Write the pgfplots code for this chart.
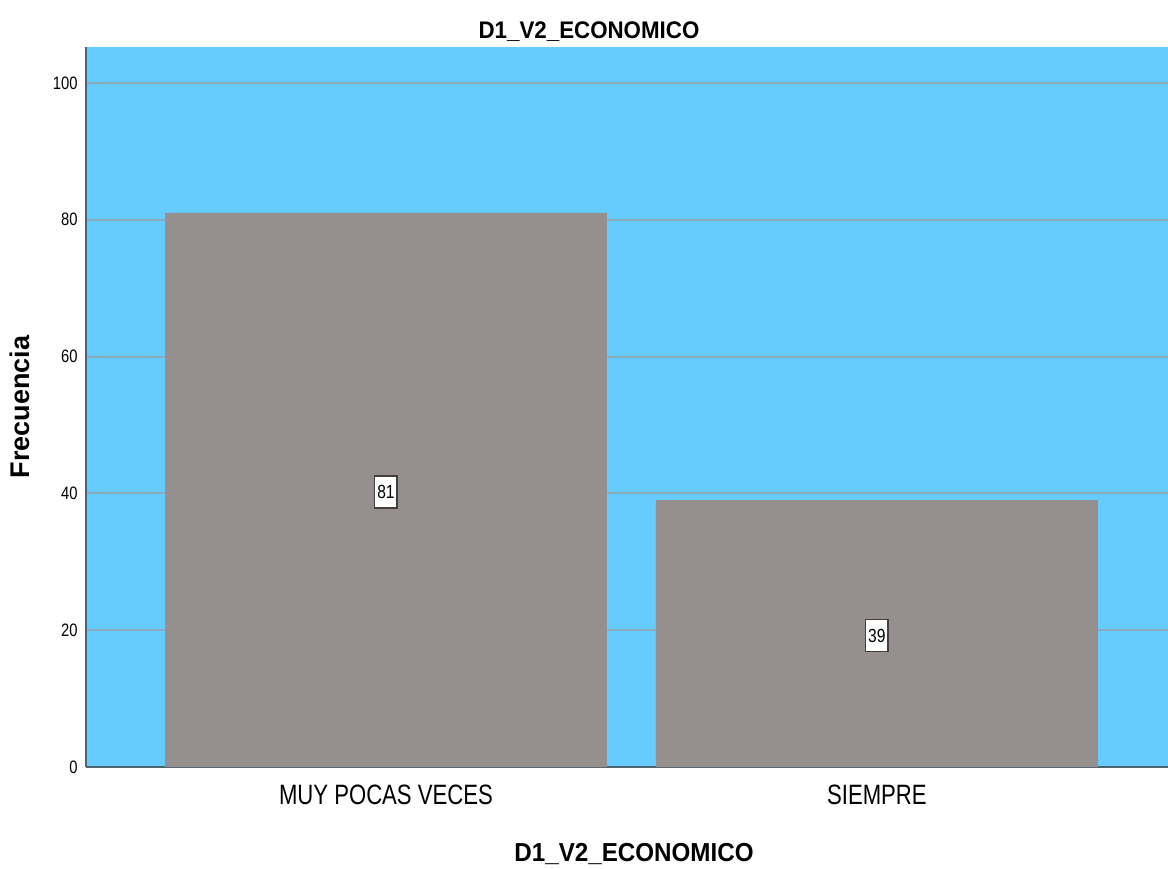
\documentclass[border=0pt]{standalone}
\usepackage{fontspec}
\setmainfont{Liberation Sans}
\newfontfamily\narrowfont{Liberation Sans}[FakeStretch=0.82]
\newfontfamily\catfont{Liberation Sans}[FakeStretch=0.79]
\newfontfamily\boldfont{Liberation Sans}[FakeStretch=0.93]
\usepackage{pgfplots}
\usepackage{pgfplotstable}
\pgfplotsset{compat=1.18}
\definecolor{bgblue}{RGB}{102,204,255}
\definecolor{bargray}{RGB}{149,144,142}
\definecolor{gridc}{RGB}{138,170,190}
\definecolor{axc}{RGB}{80,100,110}
\pgfplotstableread{
x v
0 81
1 39
}\datatab
\begin{document}
\begin{tikzpicture}
\begin{axis}[
  name=ax,
  at={(0,0)}, anchor=south west,
  scale only axis,
  width=541pt, height=360pt,
  xmin=-0.611, xmax=1.593,
  ymin=0, ymax=105.26,
  axis background/.style={fill=bgblue},
  axis x line=bottom, axis y line=left,
  axis line style={-, draw=axc, line width=1pt},
  xtick={0,1},
  xticklabels={MUY POCAS VECES,SIEMPRE},
  ytick={0,20,40,60,80,100},
  yticklabels={0,20,40,60,80,100},
  major tick length=0pt,
  xticklabel style={font=\catfont\fontsize{14}{16}\selectfont, inner sep=0pt, anchor=north, yshift=-9pt},
  yticklabel style={font=\narrowfont\fontsize{9}{10}\selectfont, inner sep=0pt, anchor=east, xshift=-4pt},
  ymajorgrids,
  grid style={draw=gridc, line width=1pt},
  clip=false,
]
\addplot[ybar, bar width=0.9, fill=bargray, draw=none] table[x=x, y=v] {\datatab};
\addplot[only marks, mark=none,
  nodes near coords,
  point meta=explicit,
  nodes near coords style={font=\narrowfont\fontsize{9.5}{10}\selectfont, anchor=center, fill=white, draw=black!75, line width=0.8pt, inner xsep=1.3pt, inner ysep=0pt, minimum height=16pt, yshift=-1pt, /pgf/number format/assume math mode=true},
] table[x=x, y expr=\thisrow{v}/2, meta=v] {\datatab};
\end{axis}
\node[font=\boldfont\bfseries\fontsize{12}{14}\selectfont, anchor=base] at ([xshift=251.5pt, yshift=4pt]ax.north west) {D1\_V2\_ECONOMICO};
\node[font=\boldfont\bfseries\fontsize{13}{15}\selectfont, anchor=base] at ([xshift=274pt, yshift=-47.5pt]ax.south west) {D1\_V2\_ECONOMICO};
\node[font=\bfseries\fontsize{13.5}{15}\selectfont, rotate=90, anchor=base] at ([xshift=-28pt, yshift=180pt]ax.south west) {Frecuencia};
\pgfresetboundingbox
\path[use as bounding box] (-43pt,-50.5pt) rectangle (541pt,383.5pt);
\end{tikzpicture}
\end{document}
